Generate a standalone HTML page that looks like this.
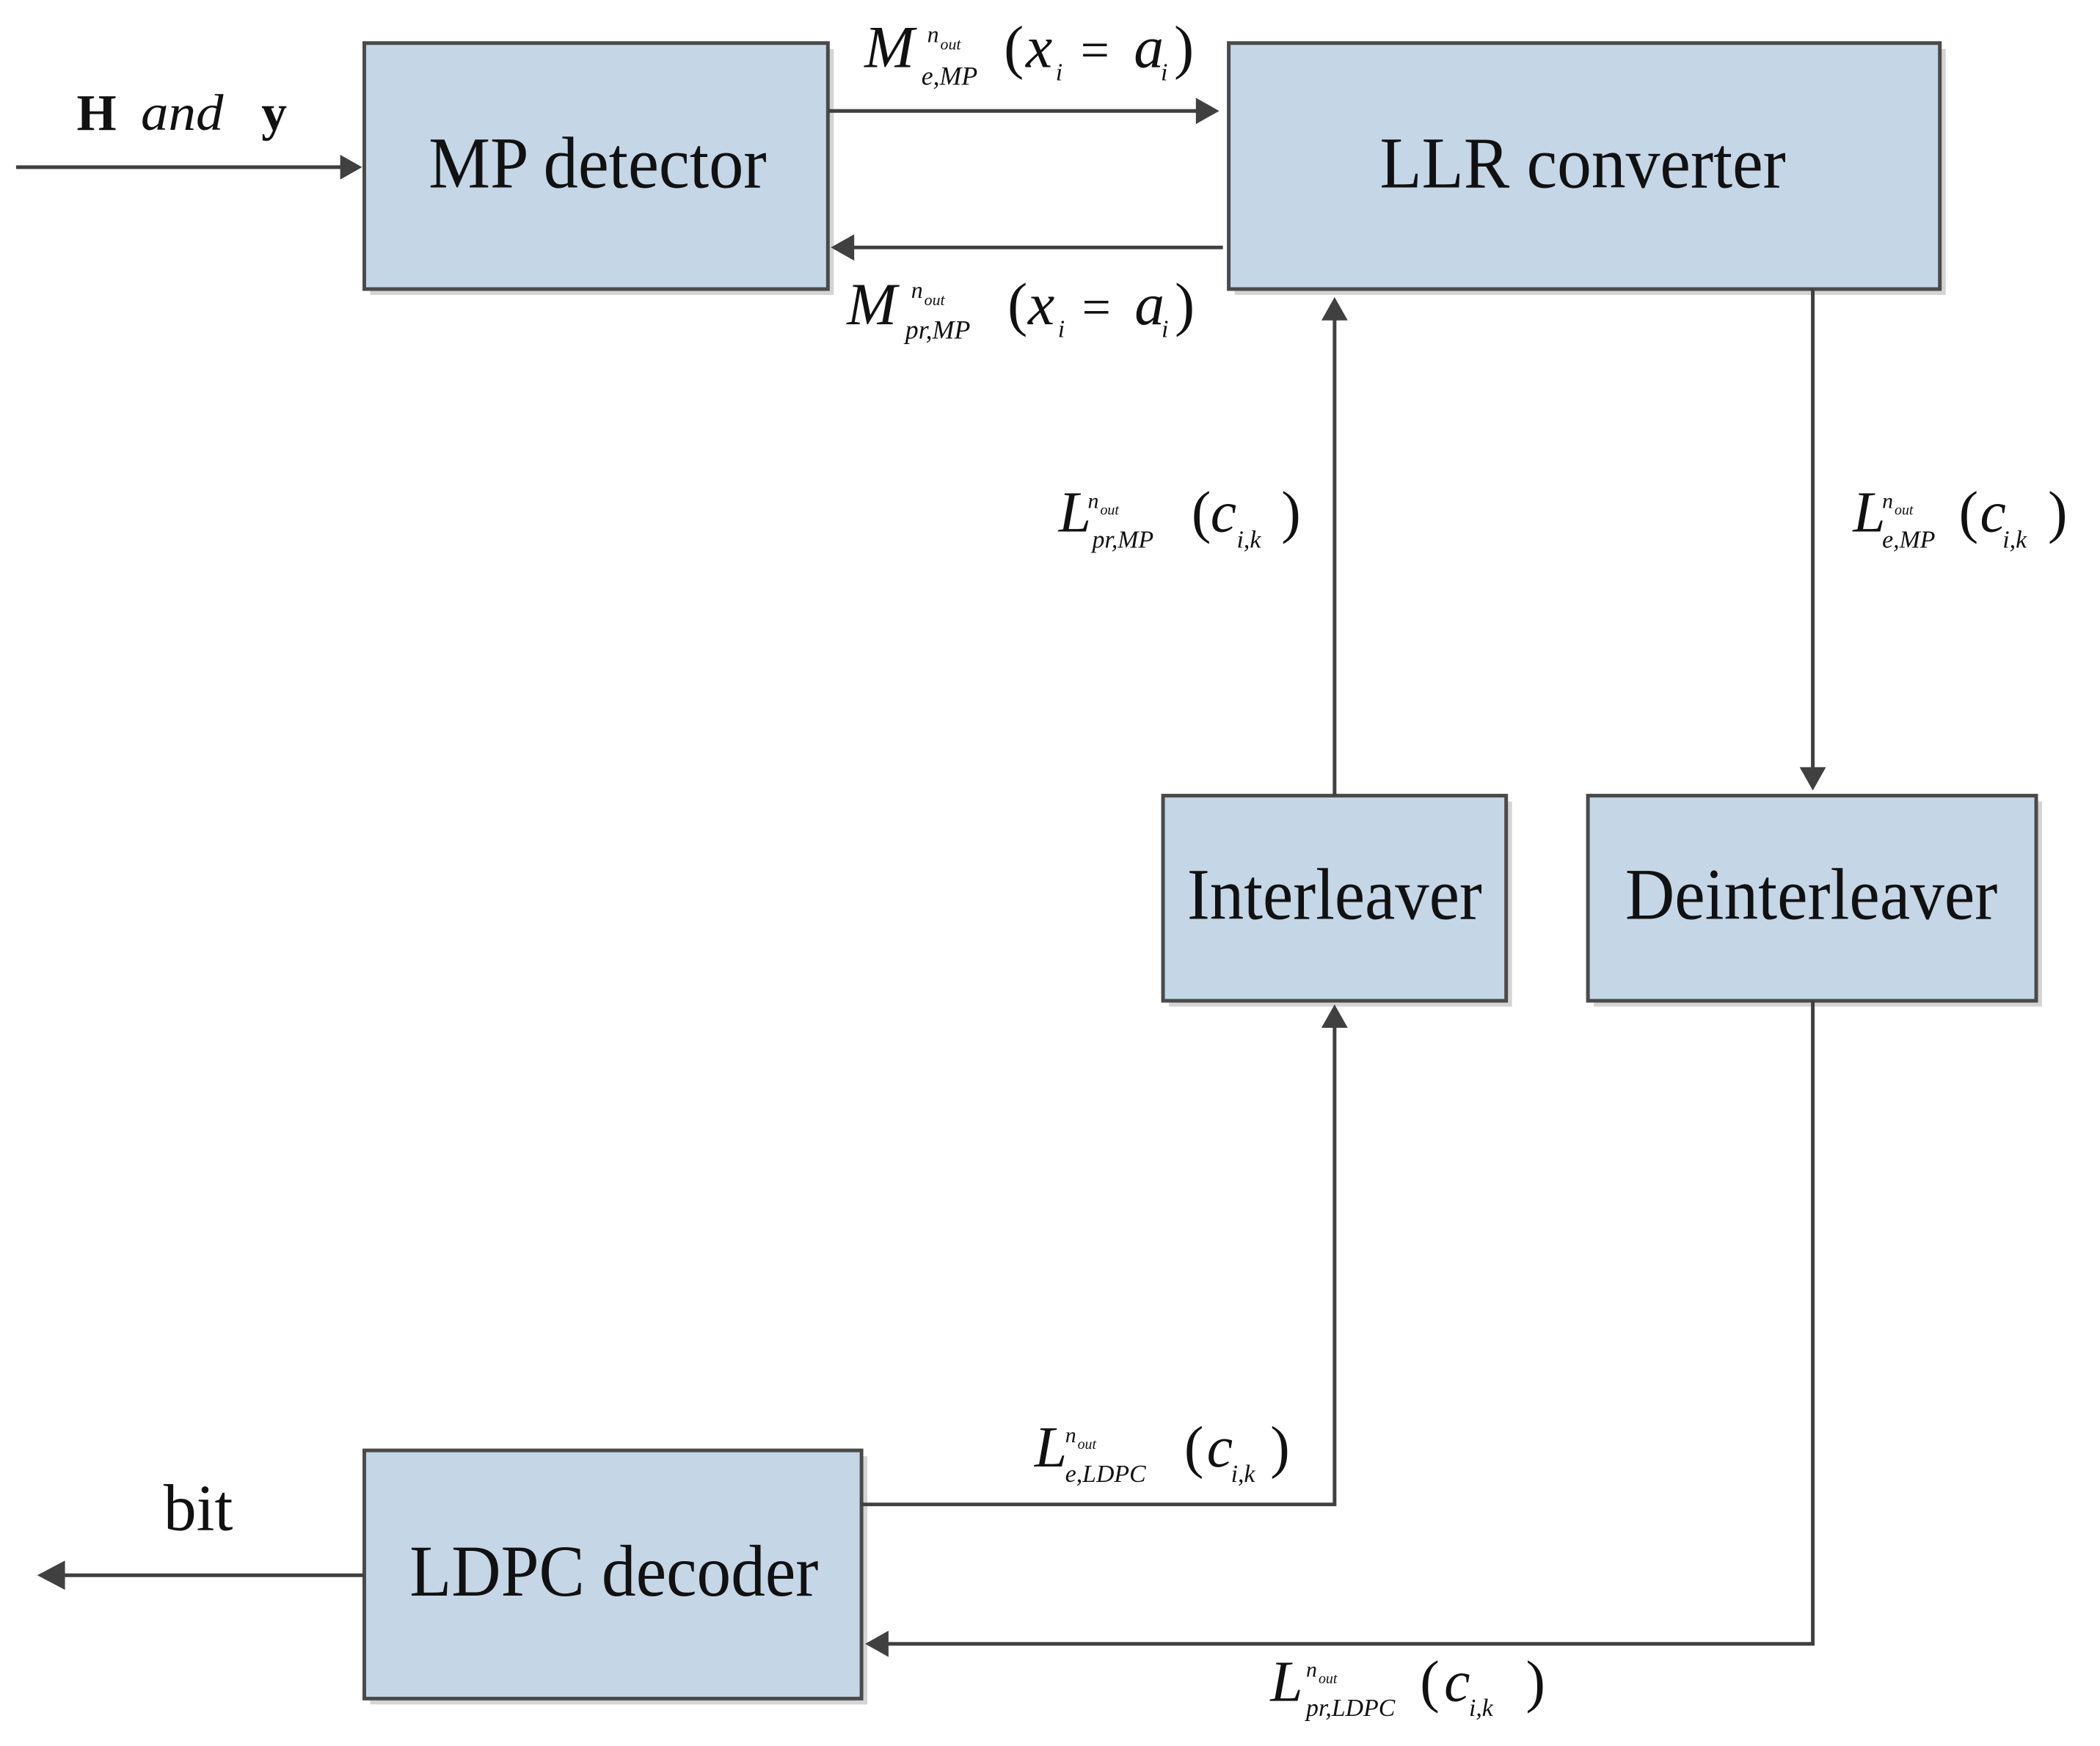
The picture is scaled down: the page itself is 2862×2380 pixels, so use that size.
<!DOCTYPE html>
<html><head><meta charset="utf-8"><style>
html,body{margin:0;padding:0;background:#fff;}
svg{display:block;}
.bx{fill:#c5d6e7;stroke:#4a4a4a;stroke-width:5;}
.sh{fill:#d4d4d4;}
.ln{stroke:#404040;stroke-width:5;fill:none;}
.t{font-family:"Liberation Serif",serif;fill:#111;}
.m{font-family:"Liberation Serif",serif;font-style:italic;fill:#111;}
</style></head><body>
<svg width="2862" height="2380" viewBox="0 0 2862 2380" xmlns="http://www.w3.org/2000/svg">
<g transform="scale(0.995)">
<!-- shadows -->
<rect class="sh" x="507" y="67" width="635" height="337"/>
<rect class="sh" x="1691" y="67" width="974" height="337"/>
<rect class="sh" x="1601" y="1098" width="470" height="281"/>
<rect class="sh" x="2183" y="1098" width="614" height="281"/>
<rect class="sh" x="507" y="1995" width="681" height="340"/>
<!-- boxes -->
<rect class="bx" x="499" y="59" width="635" height="337"/>
<rect class="bx" x="1683" y="59" width="974" height="337"/>
<rect class="bx" x="1593" y="1090" width="470" height="281"/>
<rect class="bx" x="2175" y="1090" width="614" height="281"/>
<rect class="bx" x="499" y="1987" width="681" height="340"/>
<!-- box text -->
<text class="t" x="587" y="257" font-size="100" textLength="463" lengthAdjust="spacingAndGlyphs">MP detector</text>
<text class="t" x="1890" y="257" font-size="100" textLength="556" lengthAdjust="spacingAndGlyphs">LLR converter</text>
<text class="t" x="1626" y="1259" font-size="100" textLength="404" lengthAdjust="spacingAndGlyphs">Interleaver</text>
<text class="t" x="2226" y="1259" font-size="100" textLength="510" lengthAdjust="spacingAndGlyphs">Deinterleaver</text>
<text class="t" x="561" y="2186" font-size="100" textLength="560" lengthAdjust="spacingAndGlyphs">LDPC decoder</text>
<text class="t" x="224" y="2096" font-size="90" textLength="95" lengthAdjust="spacingAndGlyphs">bit</text>
<text class="t" x="105" y="178" font-size="70" font-weight="bold">H</text>
<text class="m" x="193" y="178" font-size="70" textLength="113" lengthAdjust="spacingAndGlyphs">and</text>
<text class="t" x="358" y="178" font-size="70" font-weight="bold">y</text>
<!-- connectors -->
<g class="ln">
<line x1="22" y1="229" x2="480" y2="229"/>
<line x1="1134" y1="152" x2="1652" y2="152"/>
<line x1="1675" y1="339" x2="1156" y2="339"/>
<line x1="1828" y1="1090" x2="1828" y2="425"/>
<line x1="2483" y1="396" x2="2483" y2="1065"/>
<polyline points="1180,2061 1828,2061 1828,1394"/>
<polyline points="2483,1371 2483,2252 1203,2252"/>
<line x1="499" y1="2158" x2="70" y2="2158"/>
</g>
<g fill="#404040">
<polygon points="496,229 466,212 466,246"/>
<polygon points="1670,152 1638,134 1638,170"/>
<polygon points="1138,339 1170,321 1170,357"/>
<polygon points="1828,407 1810,439 1846,439"/>
<polygon points="2483,1083 2465,1051 2501,1051"/>
<polygon points="1828,1376 1810,1408 1846,1408"/>
<polygon points="1185,2252 1217,2234 1217,2270"/>
<polygon points="51,2158 89,2138 89,2178"/>
</g>
<!-- math labels -->
<g class="m">
<text x="1184" y="92" font-size="82">M</text>
<text x="1270" y="58" font-size="32">n</text><text x="1288" y="68" font-size="22">out</text>
<text x="1262" y="116" font-size="36">e,MP</text>
<text x="1375" y="92" font-size="82" font-style="normal">(</text>
<text x="1405" y="92" font-size="82">x</text>
<text x="1446" y="110" font-size="34">i</text>
<text x="1480" y="92" font-size="70" font-style="normal">=</text>
<text x="1553" y="92" font-size="82">a</text>
<text x="1590" y="110" font-size="34">i</text>
<text x="1608" y="92" font-size="82" font-style="normal">)</text>

<text x="1160" y="444" font-size="82">M</text>
<text x="1248" y="408" font-size="32">n</text><text x="1266" y="418" font-size="22">out</text>
<text x="1240" y="464" font-size="36">pr,MP</text>
<text x="1380" y="444" font-size="82" font-style="normal">(</text>
<text x="1408" y="444" font-size="82">x</text>
<text x="1449" y="462" font-size="34">i</text>
<text x="1482" y="444" font-size="70" font-style="normal">=</text>
<text x="1554" y="444" font-size="82">a</text>
<text x="1591" y="462" font-size="34">i</text>
<text x="1609" y="444" font-size="82" font-style="normal">)</text>

<text x="1450" y="728" font-size="80">L</text>
<text x="1490" y="696" font-size="30">n</text><text x="1507" y="705" font-size="20">out</text>
<text x="1496" y="750" font-size="34">pr,MP</text>
<text x="1632" y="728" font-size="80" font-style="normal">(</text>
<text x="1658" y="728" font-size="80">c</text>
<text x="1694" y="750" font-size="34">i,k</text>
<text x="1755" y="728" font-size="80" font-style="normal">)</text>

<text x="2538" y="728" font-size="80">L</text>
<text x="2578" y="696" font-size="30">n</text><text x="2595" y="705" font-size="20">out</text>
<text x="2578" y="750" font-size="34">e,MP</text>
<text x="2683" y="728" font-size="80" font-style="normal">(</text>
<text x="2712" y="728" font-size="80">c</text>
<text x="2743" y="750" font-size="34">i,k</text>
<text x="2805" y="728" font-size="80" font-style="normal">)</text>

<text x="1417" y="2009" font-size="80">L</text>
<text x="1459" y="1976" font-size="30">n</text><text x="1476" y="1985" font-size="20">out</text>
<text x="1459" y="2030" font-size="34">e,LDPC</text>
<text x="1622" y="2009" font-size="80" font-style="normal">(</text>
<text x="1653" y="2009" font-size="80">c</text>
<text x="1686" y="2030" font-size="34">i,k</text>
<text x="1740" y="2009" font-size="80" font-style="normal">)</text>

<text x="1740" y="2330" font-size="80">L</text>
<text x="1789" y="2297" font-size="30">n</text><text x="1806" y="2306" font-size="20">out</text>
<text x="1789" y="2351" font-size="34">pr,LDPC</text>
<text x="1945" y="2330" font-size="80" font-style="normal">(</text>
<text x="1978" y="2330" font-size="80">c</text>
<text x="2012" y="2351" font-size="34">i,k</text>
<text x="2090" y="2330" font-size="80" font-style="normal">)</text>
</g>
</g>
</svg>
</body></html>
